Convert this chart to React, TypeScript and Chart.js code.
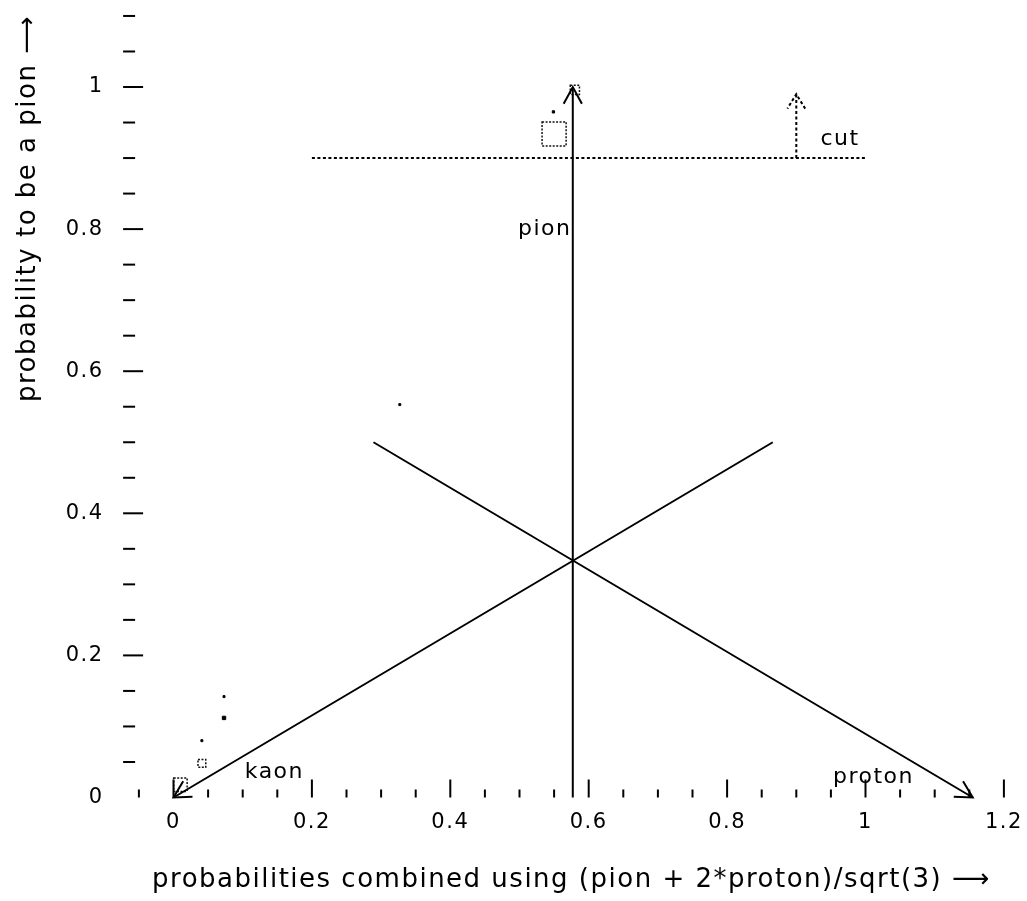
import React, { useEffect, useRef } from 'react';
import { Chart, registerables } from 'chart.js';

Chart.register(...registerables);

// ---- axis ranges & tick labels ----
const X_MIN = -0.075;
const X_MAX = 1.225;
const Y_MIN = 0;
const Y_MAX = 1.115;
const xTickLabels = [0, 0.2, 0.4, 0.6, 0.8, 1, 1.2];
const yTickLabels = [0, 0.2, 0.4, 0.6, 0.8, 1];
const xMinorTicks = [-0.05, 0, 0.05, 0.1, 0.15, 0.2, 0.25, 0.3, 0.35, 0.4, 0.45, 0.5, 0.55, 0.6, 0.65, 0.7, 0.75, 0.8, 0.85, 0.9, 0.95, 1, 1.05, 1.1, 1.15, 1.2];
const yMinorTicks = [0.05, 0.1, 0.15, 0.2, 0.25, 0.3, 0.35, 0.4, 0.45, 0.5, 0.55, 0.6, 0.65, 0.7, 0.75, 0.8, 0.85, 0.9, 0.95, 1, 1.05, 1.1];

// ---- arrows (probability-space vectors) ----
const pionArrowX = [0.577, 0.577];
const pionArrowY = [0, 1];
const kaonArrowX = [0.866, 0];
const kaonArrowY = [0.5, 0];
const protonArrowX = [0.289, 1.155];
const protonArrowY = [0.5, 0];
const cutLineX = [0.2, 1.0];
const cutLineY = [0.9, 0.9];
const cutArrowX = [0.9, 0.9];
const cutArrowY = [0.9, 0.99];

// ---- events: boxes (size ~ number of entries) and single entries ----
const boxX = [0.55, 0.58, 0.041, 0.01];
const boxY = [0.934, 0.996, 0.048, 0.018];
const boxWeight = [17, 6.5, 5.5, 9.5];
const dotX = [0.549, 0.327, 0.073, 0.073, 0.041];
const dotY = [0.965, 0.553, 0.142, 0.112, 0.08];
const dotWeight = [1.6, 1.4, 1.4, 2.4, 1.4];

// ---- text annotations ----
const noteText = ['pion', 'kaon', 'proton', 'cut'];
const noteX = [0.575, 0.103, 0.953, 0.935];
const noteY = [0.792, 0.027, 0.0205, 0.919];
const noteAlign = ['right', 'left', 'left', 'left'];

const FONT = "'DejaVu Sans', sans-serif";
const SPACING = '1.5px';

const zip = (xs: number[], ys: number[]) => xs.map((x, i) => ({ x, y: ys[i] }));
const isMajor = (v: number) => Math.abs(v / 0.2 - Math.round(v / 0.2)) < 1e-6;
const fmt = (v: number) => String(Number(v.toFixed(2)));

const overlayPlugin = {
  id: 'overlay',
  beforeDraw(chart: any) {
    try { chart.ctx.letterSpacing = SPACING; } catch (e) { /* ignore */ }
  },
  beforeDatasetDraw(chart: any, args: any) {
    const ds = chart.data.datasets[args.index];
    if (ds.pointDash) {
      chart.ctx.save();
      chart.ctx.setLineDash(ds.pointDash);
    }
  },
  afterDatasetDraw(chart: any, args: any) {
    const ds = chart.data.datasets[args.index];
    if (ds.pointDash) chart.ctx.restore();
  },
  afterDatasetsDraw(chart: any) {
    const ctx = chart.ctx;
    const xs = chart.scales.x;
    const ys = chart.scales.y;
    const area = chart.chartArea;
    ctx.save();
    // arrowheads
    chart.data.datasets.forEach((ds: any, i: number) => {
      if (!ds.arrow) return;
      const pts = chart.getDatasetMeta(i).data;
      const a = pts[pts.length - 2];
      const b = pts[pts.length - 1];
      const ang = Math.atan2(b.y - a.y, b.x - a.x);
      const L = ds.arrow.length;
      const h = ds.arrow.angle;
      ctx.beginPath();
      ctx.setLineDash(ds.borderDash || []);
      ctx.strokeStyle = '#000';
      ctx.lineWidth = ds.borderWidth;
      ctx.moveTo(b.x - L * Math.cos(ang - h), b.y - L * Math.sin(ang - h));
      ctx.lineTo(b.x, b.y);
      ctx.lineTo(b.x - L * Math.cos(ang + h), b.y - L * Math.sin(ang + h));
      ctx.stroke();
    });
    ctx.setLineDash([]);
    // axis tick marks
    ctx.strokeStyle = '#000';
    ctx.lineWidth = 2;
    const y0 = ys.getPixelForValue(0);
    xMinorTicks.forEach((v) => {
      const px = xs.getPixelForValue(v);
      const len = isMajor(v) ? 18 : 8;
      ctx.beginPath();
      ctx.moveTo(px, y0);
      ctx.lineTo(px, y0 - len);
      ctx.stroke();
    });
    const xl = area.left + 1.5;
    yMinorTicks.forEach((v) => {
      const py = ys.getPixelForValue(v);
      const len = isMajor(v) ? 20 : 12;
      ctx.beginPath();
      ctx.moveTo(xl, py);
      ctx.lineTo(xl + len, py);
      ctx.stroke();
    });
    // annotations
    ctx.fillStyle = '#000';
    ctx.font = `22px ${FONT}`;
    ctx.textBaseline = 'alphabetic';
    noteText.forEach((t, i) => {
      ctx.textAlign = noteAlign[i];
      ctx.fillText(t, xs.getPixelForValue(noteX[i]), ys.getPixelForValue(noteY[i]));
    });
    ctx.restore();
  },
};

export default function App() {
  const ref = useRef<HTMLCanvasElement | null>(null);
  useEffect(() => {
    document.body.style.margin = '0';
    if (!ref.current) return;
    const lineDs = (data: any, extra: any = {}) => ({
      type: 'line',
      data,
      showLine: true,
      borderColor: '#000',
      borderWidth: 2,
      pointRadius: 0,
      fill: false,
      clip: false,
      ...extra,
    });
    const arrowHead = { length: 19, angle: 0.5 };
    const chart = new Chart(ref.current, {
      type: 'scatter',
      data: {
        datasets: [
          lineDs(zip(pionArrowX, pionArrowY), { arrow: arrowHead }),
          lineDs(zip(kaonArrowX, kaonArrowY), { arrow: arrowHead }),
          lineDs(zip(protonArrowX, protonArrowY), { arrow: arrowHead }),
          lineDs(zip(cutLineX, cutLineY), { borderDash: [3, 2.5] }),
          lineDs(zip(cutArrowX, cutArrowY), { borderDash: [3, 2.5], arrow: { length: 17, angle: 0.55 } }),
          {
            type: 'scatter',
            data: zip(boxX, boxY),
            pointStyle: 'rect',
            pointRadius: boxWeight,
            borderColor: '#111',
            borderWidth: 1.5,
            backgroundColor: 'rgba(0,0,0,0)',
            pointDash: [2, 1.5],
            clip: false,
          } as any,
          {
            type: 'scatter',
            data: zip(dotX, dotY),
            pointStyle: 'rect',
            pointRadius: dotWeight,
            borderColor: '#000',
            borderWidth: 1,
            backgroundColor: '#000',
            clip: false,
          } as any,
        ] as any,
      },
      options: {
        animation: false,
        responsive: false,
        events: [],
        layout: { autoPadding: false, padding: { top: 5.3, right: 5.8, left: 0, bottom: 0 } },
        plugins: { legend: { display: false }, tooltip: { enabled: false } },
        scales: {
          x: {
            type: 'linear',
            min: X_MIN,
            max: X_MAX,
            afterFit: (s: any) => {
              s.height = 103.5;
              s.paddingLeft = 0;
              s.paddingRight = 0;
            },
            border: { display: false },
            grid: { display: false, drawTicks: false },
            ticks: {
              stepSize: 0.2,
              includeBounds: false,
              padding: 12.5,
              color: '#000',
              font: { family: FONT, size: 21 },
              maxRotation: 0,
              autoSkip: false,
              callback: (v: any) => (xTickLabels.some((t) => Math.abs(t - v) < 1e-6) ? fmt(v) : ''),
            },
            title: {
              display: true,
              text: 'probabilities combined using (pion + 2*proton)/sqrt(3) ⟶',
              color: '#000',
              font: { family: FONT, size: 26 },
              padding: { top: 0, bottom: 5.4 },
            },
          },
          y: {
            type: 'linear',
            min: Y_MIN,
            max: Y_MAX,
            afterFit: (s: any) => {
              s.width = 121.6;
              s.paddingTop = 0;
              s.paddingBottom = 0;
            },
            border: { display: false },
            grid: { display: false, drawTicks: false },
            ticks: {
              stepSize: 0.2,
              includeBounds: false,
              padding: 18,
              color: '#000',
              font: { family: FONT, size: 21 },
              autoSkip: false,
              callback: (v: any) => (yTickLabels.some((t) => Math.abs(t - v) < 1e-6) ? fmt(v) : ''),
            },
            title: {
              display: true,
              align: 'end',
              text: 'probability to be a pion ⟶ ',
              color: '#000',
              font: { family: FONT, size: 26 },
              padding: { top: 12.5, bottom: 0 },
            },
          },
        },
      } as any,
      plugins: [overlayPlugin as any],
    });
    return () => chart.destroy();
  }, []);
  return (
    <div style={{ width: 1027, height: 901, position: 'relative', background: '#fff' }}>
      <canvas ref={ref} width={1027} height={901} style={{ display: 'block' }} />
    </div>
  );
}
